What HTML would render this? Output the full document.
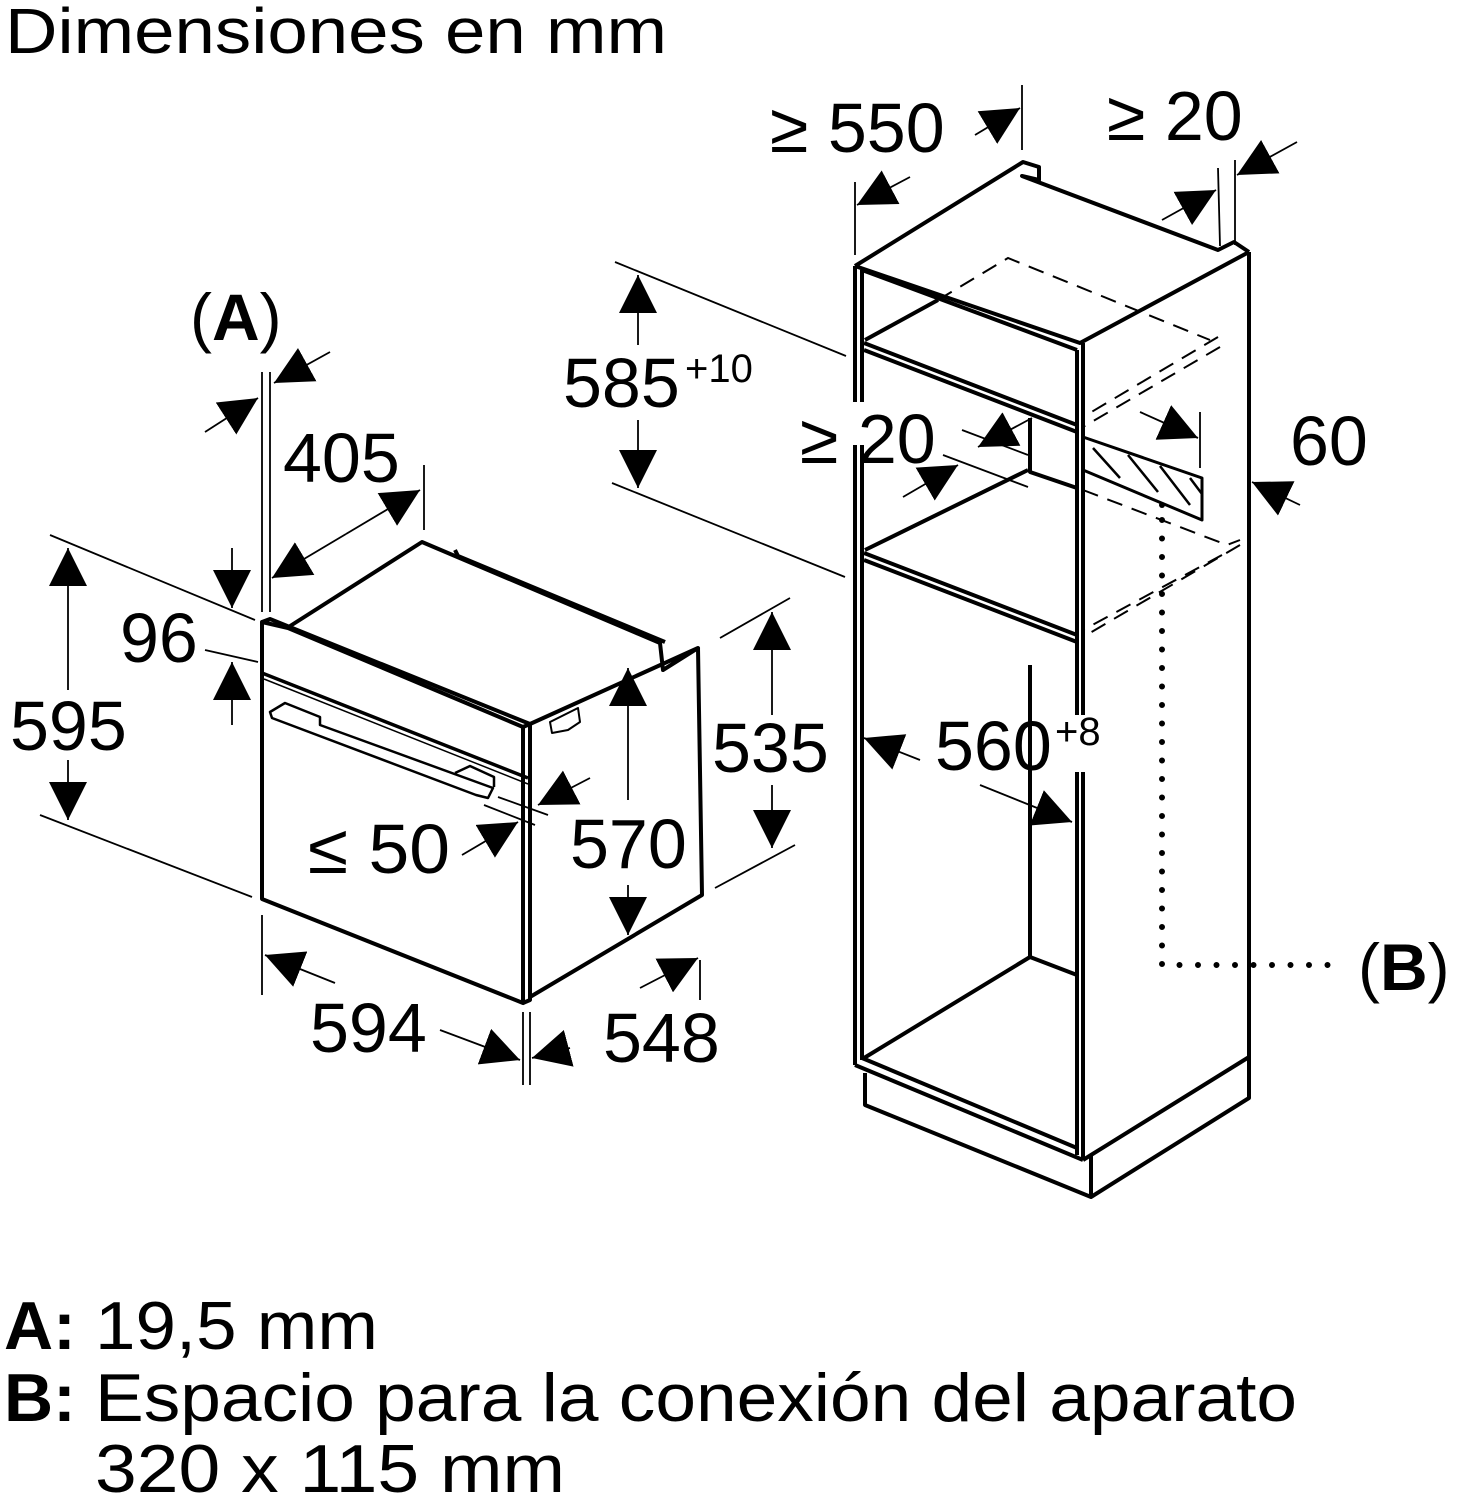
<!DOCTYPE html>
<html><head><meta charset="utf-8"><style>
html,body{margin:0;padding:0;background:#fff;}
svg{display:block;}
text{font-family:"Liberation Sans",sans-serif;fill:#000;}
</style></head><body>
<svg width="1459" height="1500" viewBox="0 0 1459 1500" xmlns="http://www.w3.org/2000/svg">
<defs>
<marker id="ah" viewBox="0 0 10 10" refX="10" refY="5" markerWidth="38" markerHeight="38" markerUnits="userSpaceOnUse" orient="auto">
<path d="M0,0 L10,5 L0,10 z" fill="#000"/></marker>
</defs>
<text x="5" y="53" font-size="64" textLength="662" lengthAdjust="spacingAndGlyphs">Dimensiones en mm</text>

<!-- ===== OVEN ===== -->
<g fill="none" stroke="#000" stroke-width="4" stroke-linejoin="round">
<path d="M262,622 L262,899 L523,1003 L523,727 L288,628 Z"/>
<path d="M262,622 L270,619 L530,724 L523,727"/>
<path d="M530,724 L530,1000 L523,1003"/>
<path d="M287,628 L422,542 L660,643 L663,670 L698,648 L530,724"/>
<path d="M455,550 L458,556 L665,642"/>
<path d="M698,648 L702,895 L530,997"/>
<path d="M262,673 L528,778" stroke-width="3.5"/>
<path d="M264,679 L528,784" stroke-width="1.5"/>
<path d="M270,712 L285,703 L320,717 L320,725 L493,788 L488,798 L476,795 L272,718 Z" stroke-width="2.5"/>
<path d="M455,773 L470,766 L494,777 L494,787" stroke-width="2.5"/>
<path d="M550,722 L578,708 L580,722 L568,730 L552,733 Z" stroke-width="2"/>
</g>

<!-- ===== CABINET ===== -->
<g fill="none" stroke="#000" stroke-width="4" stroke-linejoin="round">
<path d="M855,266 L1023,162 L1039,167 L1039,180 L1022,176 L1218,250 L1234,242 L1249,252"/>
<path d="M855,266 L1080,343 L1249,252"/>
<path d="M855,266 L855,402 M855,445 L855,1065"/>
<path d="M862,270 L862,402 M862,445 L862,1060"/>
<path d="M1077,350 L1077,715 M1077,772 L1077,1155"/>
<path d="M1083,343 L1083,715 M1083,772 L1083,1160"/>
<path d="M1249,252 L1249,1055"/>
<path d="M862,270 L1077,350"/>
<path d="M865,340 L938,300"/>
<path d="M864,343 L1077,425 M864,350 L1077,432"/>
<path d="M1030,418 L1030,472 L1077,488"/>
<path d="M865,550 L1028,470"/>
<path d="M864,553 L1077,635 M864,560 L1077,642"/>
<path d="M1030,665 L1030,957"/>
<path d="M864,1058 L1030,957 L1077,975"/>
<path d="M855,1065 L1083,1160"/>
<path d="M862,1058 L1077,1148"/>
<path d="M865,1073 L865,1105 L1091,1197 L1249,1098 L1249,1055"/>
<path d="M1083,1160 L1091,1155 L1249,1057 M1091,1155 L1091,1197"/>
<path d="M1083,437 L1202,478 L1202,520 L1083,470" stroke-width="3"/>
<g stroke-width="2.5"><path d="M1093,448 L1120,478 M1128,455 L1158,492 M1160,466 L1190,505 M1190,478 L1202,494"/></g>
</g>
<!-- dashed -->
<g fill="none" stroke="#000" stroke-width="2" stroke-dasharray="16,10">
<path d="M938,300 L1008,258 L1210,340"/>
<path d="M1218,337 L1083,417"/>
<path d="M1220,347 L1083,427"/>
<path d="M1083,490 L1227,545 L1240,540"/>
<path d="M1222,555 L1083,630"/>
<path d="M1240,545 L1083,637"/>
</g>
<g fill="#000"><circle cx="1162" cy="505" r="3"/></g>
<path d="M1162,520 L1162,965 L1340,965" fill="none" stroke="#000" stroke-width="6" stroke-linecap="round" stroke-dasharray="0,18.5"/>

<!-- ===== DIMENSIONS ===== -->
<g fill="none" stroke="#000" stroke-width="1.8">
<path d="M262,372 L262,612 M270,372 L270,612"/>
<path d="M205,432 L258,398" marker-end="url(#ah)"/>
<path d="M330,352 L274,383" marker-end="url(#ah)"/>
<path d="M424,465 L424,530"/>
<path d="M346,534 L272,578" marker-end="url(#ah)"/>
<path d="M346,534 L420,490" marker-end="url(#ah)"/>
<path d="M50,535 L255,620"/>
<path d="M205,650 L258,662"/>
<path d="M40,815 L252,897"/>
<path d="M232,548 L232,608" marker-end="url(#ah)"/>
<path d="M232,725 L232,662" marker-end="url(#ah)"/>
<path d="M68,690 L68,548" marker-end="url(#ah)"/>
<path d="M68,760 L68,820" marker-end="url(#ah)"/>
<path d="M720,638 L790,598 M715,888 L795,845"/>
<path d="M772,715 L772,612" marker-end="url(#ah)"/>
<path d="M772,785 L772,848" marker-end="url(#ah)"/>
<path d="M628,800 L628,668" marker-end="url(#ah)"/>
<path d="M628,885 L628,935" marker-end="url(#ah)"/>
<path d="M498,797 L548,815 M484,805 L535,825"/>
<path d="M590,778 L538,805" marker-end="url(#ah)"/>
<path d="M462,855 L518,822" marker-end="url(#ah)"/>
<path d="M262,915 L262,995 M523,1012 L523,1085 M530,1012 L530,1085 M700,960 L700,1000"/>
<path d="M335,983 L265,955" marker-end="url(#ah)"/>
<path d="M440,1030 L520,1060" marker-end="url(#ah)"/>
<path d="M570,1048 L532,1058" marker-end="url(#ah)"/>
<path d="M640,988 L698,958" marker-end="url(#ah)"/>
<path d="M855,182 L855,255 M1022,85 L1022,150"/>
<path d="M910,177 L857,205" marker-end="url(#ah)"/>
<path d="M975,135 L1020,108" marker-end="url(#ah)"/>
<path d="M1218,168 L1220,246 M1235,160 L1235,245"/>
<path d="M1162,220 L1216,190" marker-end="url(#ah)"/>
<path d="M1297,142 L1237,175" marker-end="url(#ah)"/>
<path d="M615,262 L846,356 M612,483 L845,577"/>
<path d="M638,345 L638,275" marker-end="url(#ah)"/>
<path d="M638,420 L638,488" marker-end="url(#ah)"/>
<path d="M962,430 L1028,455 M943,455 L1028,487"/>
<path d="M1032,418 L978,447" marker-end="url(#ah)"/>
<path d="M903,497 L958,465" marker-end="url(#ah)"/>
<path d="M1200,412 L1200,468"/>
<path d="M1140,412 L1198,438" marker-end="url(#ah)"/>
<path d="M1300,505 L1252,482" marker-end="url(#ah)"/>
<path d="M920,760 L864,738" marker-end="url(#ah)"/>
<path d="M980,785 L1072,822" marker-end="url(#ah)"/>
</g>

<g font-size="70">
<text x="190" y="340" font-size="66">(<tspan font-weight="bold">A</tspan>)</text>
<text x="283" y="482">405</text>
<text x="120" y="662">96</text>
<text x="10" y="750">595</text>
<text x="712" y="772">535</text>
<text x="570" y="868">570</text>
<text x="308" y="873" textLength="142" lengthAdjust="spacingAndGlyphs">≤ 50</text>
<text x="310" y="1052">594</text>
<text x="603" y="1062">548</text>
<text x="770" y="152">≥ 550</text>
<text x="1107" y="140">≥ 20</text>
<text x="563" y="407">585</text><text x="685" y="382" font-size="40">+10</text>
<text x="800" y="463">≥ 20</text>
<text x="1290" y="465">60</text>
<text x="935" y="770">560</text><text x="1055" y="745" font-size="40">+8</text>
<text x="1358" y="990" font-size="66">(<tspan font-weight="bold">B</tspan>)</text>
</g>
<g font-size="68">
<text x="4" y="1349" font-weight="bold">A:</text>
<text x="95" y="1349" textLength="283" lengthAdjust="spacingAndGlyphs">19,5 mm</text>
<text x="4" y="1421" font-weight="bold">B:</text>
<text x="95" y="1421" textLength="1202" lengthAdjust="spacingAndGlyphs">Espacio para la conexión del aparato</text>
<text x="95" y="1492" textLength="470" lengthAdjust="spacingAndGlyphs">320 x 115 mm</text>
</g>
</svg>
</body></html>
